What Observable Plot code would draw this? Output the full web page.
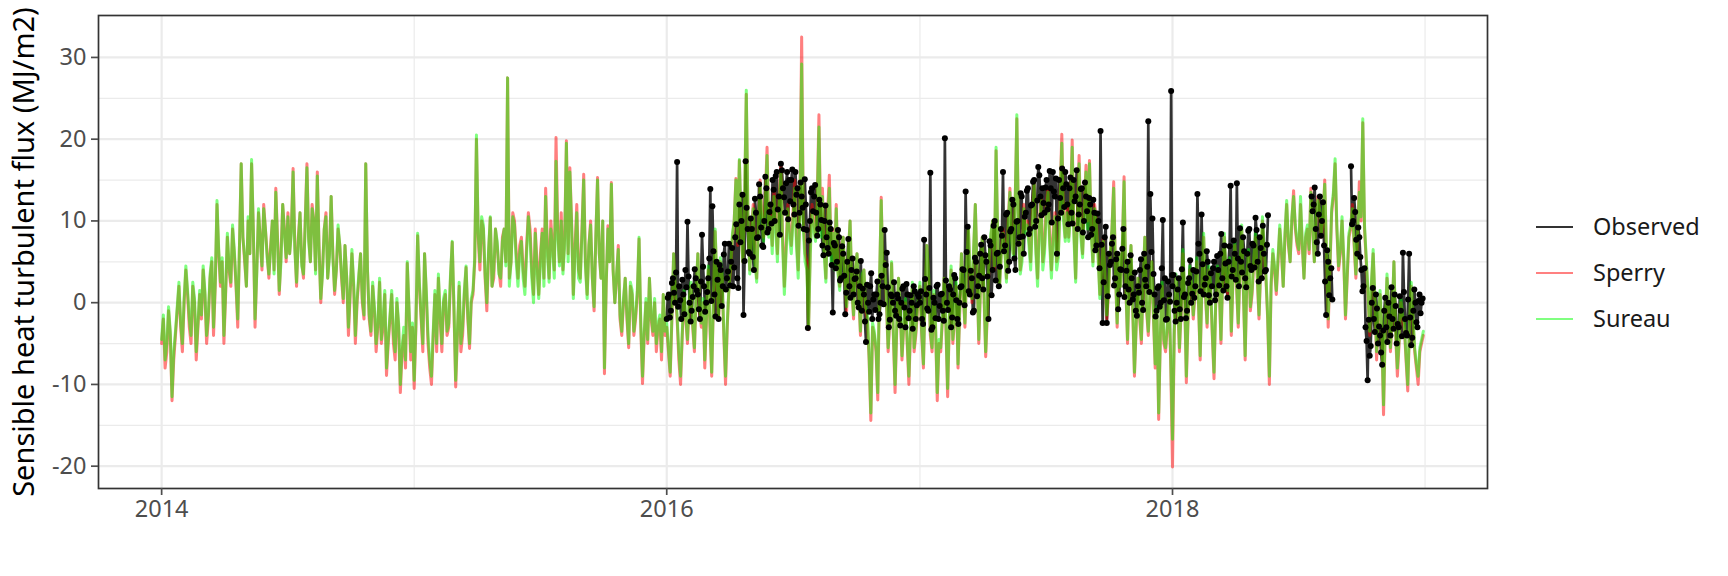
<!DOCTYPE html>
<html>
<head>
<meta charset="utf-8">
<script src="https://cdn.jsdelivr.net/npm/d3@7"></script>
<script src="https://cdn.jsdelivr.net/npm/@observablehq/plot@0.6"></script>
<style>
  html, body { margin: 0; padding: 0; background: #ffffff; }
  #wrap { position: relative; width: 1728px; height: 576px; font-family: "Noto Sans", sans-serif; }
  .legend { position: absolute; left: 1536px; top: 204px; }
  .legend .row { display: flex; align-items: center; height: 46px; }
  .legend .key { width: 37px; height: 2.7px; }
  .legend .lab { margin-left: 20px; font-size: 23.5px; color: #1a1a1a; line-height: 1; }
</style>
</head>
<body>
<div id="wrap"></div>
<script>
// ---------------- data ----------------
// Model series, set "a": one value every 5 days from 1 January of each year
const modelStep = 5;
const sperry2014 = [-5,-8,-1,-12,-4,2,-6, 4,-3,2,-7,1, 4,-5,3,-4,12,2, -5,8,2,6,-3,17, 5,10,17,-3,11,4,9, 3,10,14,1,12,5, 6,16.4,2,11,3,17, 5,10,16,0,9,3, 13,1,9,3,7,-4, 6,-5,3,0,17,-2, 2,-6,2.5,-3,-8.9,-2, -5,0,-11,-4,4.8,-7];
const sperry2015 = [-10.5,8.2,-2,6,-5,-10,1, 3,-6,1,-3,7.4, -10.3,2,-4,4.3,-5.6,1, 20,4,9,-1,10.4,3, 7,2,9,27.5,5,10,3, 8,2,11,4,9,1, 9,14,3,7,20.2,5, 4,19.8,16.5,1,12,3, 15.7,1,10,-1,15.3,3, -8.7,9.4,14.7,0,7,-4, 3,-5.5,1,-2,7.8,-9.9, 0,3,-4,-6,-2,1];
const sperry2016 = [-3,-9,6,-2,-10,1,-5, 2,-6,6,-3,-8, 4,-9,8.7,-2,3,-10, 2,8,15.2,17.4,5,25.5, 4,12,3,15,8,19,11, 14,6,17,2,12,7, 15,4,32.5,6,-3.3,12, 8,23,14,3,15.6,9, 12,2,8,-1,10,-2, 6,-4,4,-2,-14.4,-4, -11.9,12.9,5,-6,4.8,-11, 3,-7,0,-10,2,-4];
const sperry2017 = [2,-8,7,-4,1,-12,-6, 3,-11.5,4,-2,-8, 6,-3,9,0,12,-5, 8,-6.6,5,10,18.6,2, 9,3,14,6,22.5,4,12, 10,5,15,3,13,7, 14,4,11,6,20.6,8, 8,19.9,3,18,6,16.8, 17.4,5,10,1,8,-2, 6,14.8,-3,2,15.4,-5, 7,-9,3,-5,8,-4, 5,-8,-14.3,2,-6,1];
const sperry2018 = [-20.1,3,-6,6,-9.8,4,-2, 5,-7,8,-3,2, -9.3,4,-5,8,1,-4, 7,-3,9,-7,6,1, 8,-2,10,3,-10,6,1, 9,2,12,5,13.7,7, 12,3,9,14,5,13, 8,15,-3,11,17,4, 10,-2,8,12,3,14.8, 22,5,-4,6,-7,1, -13.7,3,-6,5,-9,0, -3,-10.8,2,-6,-10,-5];

const sureau2014 = [-4.5,-7,-0.5,-11.5,-3.5,2.5,-5, 4.5,-2,2.5,-6,1.5, 4.5,-4,3.5,-3,12.5,2.5, -4,8.5,2.5,6.5,-2,17, 5.5,10.5,17.5,-2,11.5,4.5,9, 3.5,10,13.5,1.5,12,5.5, 6,16,2.5,11,3.5,16.5, 5,10,15.5,0.5,9,3, 13,1.5,9.5,3.5,7,-3, 6.5,-4,3.5,0.5,17,-1.5, 2.5,-5,3,-2,-8,-1.5, -4,0.5,-10,-3,5,-6];
const sureau2015 = [-9.5,8.5,-1.5,6,-4,-9,1.5, 3.5,-5,1.5,-2.5,7.5, -9.5,2.5,-3,4.5,-5,1.5, 20.5,5,9.5,0,10.5,4, 7.5,3,9,27.5,5,9.5,2, 7.5,1,10.5,3,8.5,0.5, 8.5,13,2.5,6.5,17.3,4.5, 3.5,19.5,16,0.5,11,2.5, 15,0.5,9.5,-0.5,15,3, -8,9,14.5,0,6.5,-3.5, 3,-5,1.5,-1.5,8,-9, 0.5,3,-3.5,-5,-1.5,1];
const sureau2016 = [-2.5,-8.5,6,-1.5,-9,1.5,-4.5, 2.5,-5.5,6,-2.5,-7, 4.5,-8.5,9,-1.5,3.5,-9, 2,8.5,15,17.5,5,26, 3.5,11.5,2.5,14.5,7.5,18,10.5, 13,5,16,1,11.5,6, 14,3,29.2,5,-3,11, 7.5,21.5,13,2.5,14,8.5, 11.5,1.5,8,-0.5,10,-1.5, 6,-3.5,4,-1.5,-13.5,-3.5, -11,12.5,5,-5.5,5,-10, 3,-6.5,0.5,-9,2.5,-3.5];
const sureau2017 = [2.5,-7.5,7,-3.5,1.5,-11,-5.5, 3,-10.5,4.5,-1.5,-7.5, 6,-2.5,9,0.5,12,-4.5, 8,-6,5.5,10,19,2, 8.5,2.5,13.5,5.5,23,3.5,11.5, 9.5,4,14.5,2,12.5,6, 13.5,3,10.5,5.5,19.5,7.5, 7.5,19,2.5,17,5.5,16, 17,4.5,9.5,0.5,7.5,-1.5, 6,14,-2.5,2,14.8,-4.5, 7,-8.5,3,-4.5,8,-3.5, 5,-7.5,-13.5,2.5,-5.5,1];
const sureau2018 = [-16.7,3.5,-5.5,6.5,-9,4.5,-1.5, 5.5,-6.5,8.5,-2.5,2.5, -8.5,4.5,-4.5,8.5,1.5,-3.5, 7.5,-2.5,9.5,-6.5,6.5,1.5, 8.5,-1.5,10.5,3.5,-9,6.5,1.5, 9.5,2,12.5,5,13,7.5, 13,3,9.5,13.5,5,12.5, 8.5,14.5,-2,11.5,17.6,4.5, 10.5,-1.5,8.5,11.5,3.5,13.5, 22.5,5.5,-3.5,6.5,-6,1.5, -12.5,3.5,-5.5,5,-8,0.5, -2.5,-10,2.5,-5.5,-9,-4.5];

// Model series, set "b": the values read half-way (2.5 days later) between the "a" values
const sperryB2014 = [-2,-6,-4,-7,-1,-3,0, 1,-5,0,-3,-2, 1,-2,5,2,6,5, 1,4,9,2,7,8, 2,6,9,4,8,12,6, 7,4,8,6,9,11, 9,7,8,5,10,8, 12,4,7,4,11,6, 6,4,7,0,3,1, 2,0,6,-2,4,-4, -1,-3,-5,1,-5,1, -7,-3,-6,-8,-1,-3];
const sperryB2015 = [-3,2,-6,1,-8,-4,-6, -2,0,-4,3,-1, -4,-6,1,-2,0,5, 8,10,3,6,2,9, 4,8,5,3,11,6,7, 4,7,9,1,5,6, 3,7,10,4,9,11, 8,6,10,7,4,9, 5,7,3,8,6,10, 2,5,4,3,-2,0, -2,2,-4,1,-3,-4, -5,-2,0,-3,-7,-4];
const sperryB2016 = [-6,-2,1,-7,-4,-2,0, -3,1,-1,0,-2, -3,0,2,5,-4,-3, 4,10,7,9,12,10, 9,6,10,11,13,9,7, 10,13,8,7,9,11, 8,12,10,5,7,10, 13,9,7,11,6,5, 4,7,3,6,2,4, 1,3,-1,-7,-3,-6, 2,3,0,-2,-4,-3, -1,-3,-5,-3,-6,-1];
const sperryB2017 = [-4,1,3,-6,-3,-5,-2, -3,-2,-5,2,-1, 1,4,3,6,4,2, 1,-1,8,4,7,6, 7,10,8,12,9,6,9, 8,11,7,10,5,12, 8,9,5,13,11,12, 12,9,11,9,12,10, 9,12,6,4,3,1, 9,4,6,7,2,3, -1,-3,-2,2,-1,1, -2,-1,-4,-5,-3,-8];
const sperryB2018 = [-4,0,-1,1,-2,2,1, 0,2,1,4,-4, 0,2,3,2,5,3, 2,4,1,3,-1,5, 3,4,6,-2,2,4,5, 6,8,7,10,9,6, 7,8,6,9,10,11, 10,6,4,13,9,6, 5,3,9,7,8,10, 9,1,2,0,-2,-4, -3,-1,-2,-4,-5,-2, -7,-3,-2,-8,-6,-4];

const sureauB2014 = [-1.5,-5,-3.5,-6,-0.5,-2.5,0.5, 1.5,-4,0.5,-2.5,-1.5, 1.5,-1.5,5.5,2.5,6.5,5.5, 1.5,4.5,9.5,2.5,7,8, 2,6,9,3.5,7.5,11.5,5.5, 6.5,3.5,7.5,5,8.5,10.5, 8.5,6.5,7.5,4.5,9.5,7.5, 11.5,3.5,6.5,3.5,10.5,5.5, 5.5,4,7,0.5,3,1.5, 2.5,0.5,6,-1.5,4,-3.5, -0.5,-2.5,-4.5,1.5,-4.5,1.5, -6,-2.5,-5.5,-7,-0.5,-2.5];
const sureauB2015 = [-2.5,2.5,-5,1.5,-7,-3.5,-5, -1.5,0.5,-3.5,3.5,-0.5, -3.5,-5,1.5,-1.5,0.5,5.5, 8.5,10.5,3.5,6.5,2,9, 3.5,7.5,4.5,2,10.5,5,6, 3,6,8,0,4,5, 2,6,9,3,8,10, 7,5,9.5,6,3,8.5, 4.5,7,3,8,6,10, 2.5,5,4,3.5,-1.5,0.5, -1.5,2.5,-3.5,1.5,-2.5,-3.5, -4.5,-1.5,0.5,-2.5,-6,-3.5];
const sureauB2016 = [-5.5,-1.5,1.5,-6,-3.5,-1.5,0.5, -2.5,1.5,-0.5,0.5,-1.5, -2.5,0.5,2.5,5.5,-3.5,-2.5, 4.5,10,7.5,9.5,12,10, 8.5,5,9.5,10,12,8,6, 9,12,7,6,8,10, 7,11,9,4,6,9, 12,8,6,10,5,4, 3.5,6.5,3,6,2,4, 1.5,3.5,-0.5,-6.5,-2.5,-5.5, 2.5,3,0.5,-1.5,-3.5,-2.5, -0.5,-2.5,-4.5,-2.5,-5.5,-0.5];
const sureauB2017 = [-3.5,1.5,3.5,-5.5,-2.5,-4.5,-1.5, -2.5,-1.5,-4.5,2.5,-0.5, 1.5,4.5,3.5,6.5,4,2.5, 1.5,-0.5,8.5,4.5,7.5,6, 6.5,9.5,7.5,11.5,8.5,5,8.5, 7,10,6,9,4,11, 7,8,4,12,10,11, 11,8,10,8,11,9, 8.5,11.5,5.5,4,3,1.5, 9,4,6,7,2.5,3.5, -0.5,-2.5,-1.5,2.5,-0.5,1.5, -1.5,-0.5,-3.5,-4.5,-2.5,-7];
const sureauB2018 = [-3.5,0.5,-0.5,1.5,-1.5,2.5,1.5, 0.5,2.5,1.5,4.5,-3.5, 0.5,2.5,3.5,2.5,5.5,3.5, 2.5,4.5,1.5,3.5,-0.5,5.5, 3.5,4.5,6.5,-1.5,2.5,4.5,5.5, 6.5,8.5,7.5,10.5,9.5,6.5, 7.5,8.5,6.5,9.5,10.5,11.5, 10.5,6.5,4.5,13.5,9.5,6.5, 5.5,3.5,9.5,7.5,8.5,10.5, 9.5,1.5,2.5,0.5,-1.5,-3.5, -2.5,-0.5,-1.5,-3.5,-4.5,-1.5, -6.5,-2.5,-1.5,-7.5,-5.5,-3.5];

// Observed, set "a": one value every 3 days from 1 January of each year (null = missing)
const obsStep = 3;
const observed2016 = [-2,1,-1,3,0,17.2,2,-2,1,4, 9.9,0,-1,2,3,1,-2,8.3,2,0, 3,13.9,11.8,1,5,-2,4,2,7.2,3, 7.2,5,2,8,3,12,10,-1.5,17.3,9, 6,9,4,11,8,13,7,10,14,9, 12,15,10,16,13,17,14,11,16,15, 15,12,16,14,11,13,9,12,-3.1,10,14, 13,11,9,12,7,10,8,6,9,-1.2, 7,5,8,3,6,-1.4,5,2,4,1, 3,0,2,-1,1,-4.8,0,2,-2,1, 1,-2,0,2,8.9,6.1,-3,1,0,-1, 1,-2,0,2,-3,1,-1,0,2,-2,1];
const observed2017 = [0,-2,7.7,1,-1,15.9,-3,0,2,-2,1, -1,20.1,0,2,-3,1,3,-2,0, 2,4,13.6,9.3,1,3,-1,5,2,6, 3,8,5,-2,7,4,10,6,2,9, 16,7,11,5,9,12,4,10,8,13,6, 11,14,9,12,15,10,16.6,13,14,11, 15,12,14,16,13,6,15,11,14,16,12, 14,11,15,13,9,12,14,10,13,8, 12,9,11,7,10,21,-2.5,8,-2.5,6, 5,8,3,6,1,4,9,2,5,0, 3,1,-1,2,4,0,6,2,22.2,13.3, 10.3,1,-1,2,0,10.1,3,-2,1,25.9];
const observed2018 = [2,-1,0,3,-2,9.8,1,-1,3,0, 4,2,13.3,6,10.8,1,3,5,0, 2,5,1,4,6,3,7,2,5,14.3, 4,6,14.6,2,5,8,3,6,9,4, 7,10.4,5,8,3,6,4,10.7,null,null,null, null,null,null,null,null,null,null,null,null, null,null,null,null,null,null,null,null,13,12,9, 6,13,10,7,-1.5,5,3,0.4,null,null, null,null,null,null,null,null,16.7,10,11.1,6, 8,4,2,-3,-9.5,-6.5,0,-2,1,-5,-4, -7.6,-1,-3,0,-4,-2,1,-5,-3,-1, 6.1,-2,-4,6,-5.2,-1,0,-3,1,0];

// Observed, set "b": the values read 1.5 days after each "a" value
const observedB2016 = [0.6,-1.8,2.4,1.2,3.7,-0.5,0.3,2.8,-1.4,1.9, 3.2,-2.3,0.7,4.1,1.5,-0.8,2.6,4.4,-1.1,1.3, 5.4,0.2,6.3,-1.7,2.8,4.6,-0.4,5.9,1.6,3.8, 2.1,6.7,4.3,9.6,1.8,7.4,13.2,5.1,11.6,6.2, 10.3,5.6,12.7,7.9,14.5,9.2,6.8,15.4,8.6,11.1, 9.7,13.8,15.5,11.4,8.3,16.2,12.9,14.6,10.2,12.4, 16.3,10.8,13.2,9.4,14.7,11.6,15.1,8.9,7.6,13.5,11.2, 14.4,8.2,12.6,10.1,5.8,11.9,6.7,9.8,4.6,7.3, 4.2,8.9,2.7,6.9,3.3,1.2,7.8,0.6,5.4,2.9, 3.8,-0.6,5.1,1.7,-2.3,2.2,-1.1,3.6,0.4,-0.9, 2.6,-1.4,3.3,-0.2,4.6,1.9,-2.1,0.8,2.5,-1.6, 0.5,-2.8,1.7,-0.6,2.3,-1.9,0.9,-3.2,1.4,-0.3,0.7];
const observedB2017 = [1.4,-2.6,2.9,-0.7,1.8,-3.3,0.6,-1.9,2.2,-0.4,1.1, -2.2,2.7,-0.9,1.6,-1.8,3.4,0.3,-2.6,1.9, 4.1,-0.3,6.2,1.4,3.9,-1.2,5.5,0.8,3.3,7.1, 1.6,5.8,3.2,7.5,0.9,9.4,2.7,6.1,4.4,8.2, 6.3,10.8,3.9,8.7,12.6,5.4,9.9,7.2,13.4,8.1,10.5, 13.7,8.4,11.9,14.8,9.3,12.5,15.6,10.7,12.2,14.1, 11.4,16.1,9.8,13.6,15.2,10.3,12.8,16.4,11.7,14.5,9.6, 15.3,9.7,12.4,16.2,10.8,13.9,8.6,14.7,11.2,12.8, 8.3,12.6,6.4,10.9,4.2,7.1,2.5,9.3,0.8,4.6, 7.2,2.1,5.3,-0.8,4.1,6.6,0.7,3.9,1.6,5.8, 0.4,3.7,-1.6,1.2,5.3,-0.9,2.8,4.4,1.3,6.2, 3.5,-1.7,1.8,-0.5,4.2,0.3,-2.1,2.6,0.1,3.4];
const observedB2018 = [3.4,-2.3,1.6,-0.8,4.1,0.7,-1.9,2.4,5.2,1.1, 0.6,3.8,7.2,1.4,4.7,2.2,6.3,0.9,3.6, 4.2,0.3,5.7,2.1,8.4,1.5,4.8,0.6,6.9,3.2, 7.6,2.8,5.4,9.1,3.7,6.3,1.9,8.8,4.5,7.2, 4.3,8.9,2.6,6.7,9.4,3.8,7.1,null,null,null,null, null,null,null,null,null,null,null,null,null, null,null,null,null,null,null,null,null,11.2,14.1,7.4, 10.8,8.2,12.3,2.6,6.4,0.9,4.2,null,null,null, null,null,null,null,null,null,9.6,12.8,7.7,9.2, 5.6,1.4,4.2,-4.7,-2.1,-5.3,1.8,-3.6,-0.7,-2.9,-6.1, -3.4,0.6,-4.8,-1.7,1.9,-3.2,-0.4,-2.6,0.8,-4.1, 1.3,-3.7,0.4,-1.8,-4.3,1.6,-2.4,0.2,-1.3,0.5];

const yMajorTicks = [-20, -10, 0, 10, 20, 30];
const yMinorTicks = [-15, -5, 5, 15, 25];
const xMajorYears = [2014, 2016, 2018];
const xMinorYears = [2015, 2017, 2019];
const seriesNames = ["Observed", "Sperry", "Sureau"];
const seriesColors = ["#000000", "#FF0000", "#00FF00"];
const legendColors = ["#333333", "#FF8080", "#80FF80"];
const yTitle = "Sensible heat turbulent flux (MJ/m2)";

// ---------------- build tables ----------------
function toRows(values, year, step, name, offsetHours) {
  return values.map((v, i) => ({
    date: new Date(Date.UTC(year, 0, 1 + i * step, offsetHours || 0)),
    value: v, series: name}));
}
function mergeRows(years, aSets, bSets, step, bHours, name) {
  let rows = [];
  years.forEach((y, k) => {
    rows = rows.concat(toRows(aSets[k], y, step, name, 0));
    rows = rows.concat(toRows(bSets[k], y, step, name, bHours));
  });
  return rows.sort((p, q) => p.date - q.date);
}
const modelYears = [2014, 2015, 2016, 2017, 2018];
const sperry = mergeRows(modelYears,
  [sperry2014, sperry2015, sperry2016, sperry2017, sperry2018],
  [sperryB2014, sperryB2015, sperryB2016, sperryB2017, sperryB2018], modelStep, 60, "Sperry");
const sureau = mergeRows(modelYears,
  [sureau2014, sureau2015, sureau2016, sureau2017, sureau2018],
  [sureauB2014, sureauB2015, sureauB2016, sureauB2017, sureauB2018], modelStep, 60, "Sureau");
const observed = mergeRows([2016, 2017, 2018],
  [observed2016, observed2017, observed2018],
  [observedB2016, observedB2017, observedB2018], obsStep, 36, "Observed");

const allRows = sperry.concat(sureau, observed).filter(d => d.value != null);
const xStart = new Date(Date.UTC(2014, 0, 1));
const xEnd = new Date(Date.UTC(2018, 11, 31));
const yExt = d3.extent(allRows, d => d.value);
const xPad = (xEnd - xStart) * 0.05;
const yPad = (yExt[1] - yExt[0]) * 0.05;

const yearDate = y => new Date(Date.UTC(y, 0, 1));

const chart = Plot.plot({
  width: 1728,
  height: 576,
  marginLeft: 98,
  marginRight: 241,
  marginTop: 15,
  marginBottom: 88,
  style: {fontFamily: "Noto Sans", fontSize: "23.5px", background: "#ffffff"},
  x: {type: "utc", domain: [new Date(+xStart - xPad), new Date(+xEnd + xPad)]},
  y: {domain: [yExt[0] - yPad, yExt[1] + yPad]},
  marks: [
    Plot.gridY(yMinorTicks, {stroke: "#EBEBEB", strokeOpacity: 1, strokeWidth: 1.2}),
    Plot.gridX(xMinorYears.map(yearDate), {stroke: "#EBEBEB", strokeOpacity: 1, strokeWidth: 1.2}),
    Plot.gridY(yMajorTicks, {stroke: "#EBEBEB", strokeOpacity: 1, strokeWidth: 2.2}),
    Plot.gridX(xMajorYears.map(yearDate), {stroke: "#EBEBEB", strokeOpacity: 1, strokeWidth: 2.2}),
    Plot.line(observed, {x: "date", y: "value", stroke: seriesColors[0], strokeOpacity: 0.8, strokeWidth: 2.7}),
    Plot.line(sperry, {x: "date", y: "value", stroke: seriesColors[1], strokeOpacity: 0.5, strokeWidth: 3}),
    Plot.line(sureau, {x: "date", y: "value", stroke: seriesColors[2], strokeOpacity: 0.5, strokeWidth: 3}),
    Plot.dot(observed.filter(d => d.value != null), {x: "date", y: "value", r: 3, fill: "#000000", stroke: null}),
    Plot.frame({stroke: "#333333", strokeWidth: 1.7}),
    Plot.axisY(yMajorTicks, {tickSize: 7, tickPadding: 5, color: "#4D4D4D", strokeWidth: 1.7, label: null, fontSize: 23.5, tickFormat: d => String(d)}),
    Plot.axisX(xMajorYears.map(yearDate), {tickSize: 7, tickPadding: 5, color: "#4D4D4D", strokeWidth: 1.7, label: null, fontSize: 23.5, tickFormat: d3.utcFormat("%Y")}),
    Plot.text([yTitle], {frameAnchor: "left", dx: -74, rotate: -90, textAnchor: "middle", fontSize: 29, fill: "#000000", text: d => d})
  ]
});

const wrap = document.getElementById("wrap");
wrap.appendChild(chart);

const legend = document.createElement("div");
legend.className = "legend";
seriesNames.forEach((name, i) => {
  const row = document.createElement("div");
  row.className = "row";
  const key = document.createElement("span");
  key.className = "key";
  key.style.background = legendColors[i];
  const lab = document.createElement("span");
  lab.className = "lab";
  lab.textContent = name;
  row.appendChild(key);
  row.appendChild(lab);
  legend.appendChild(row);
});
wrap.appendChild(legend);
</script>
</body>
</html>
